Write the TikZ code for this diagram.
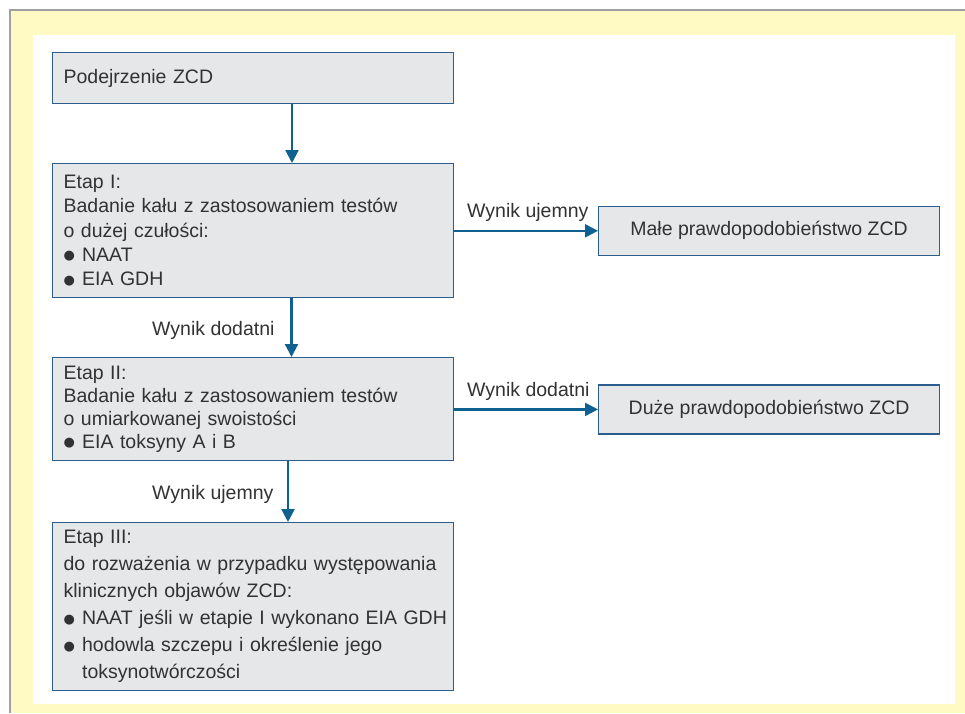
\documentclass[tikz,border=0pt]{standalone}
\usepackage{fontspec}
\setmainfont{Liberation Sans}
\newfontfamily\symf{DejaVu Sans}
\usetikzlibrary{arrows.meta}
\definecolor{yel}{RGB}{255,249,196}
\definecolor{boxfill}{RGB}{230,231,232}
\definecolor{boxdraw}{RGB}{43,94,140}
\definecolor{arrc}{RGB}{15,97,146}
\definecolor{txt}{RGB}{50,50,50}
\definecolor{frame}{RGB}{160,160,160}
\newcommand\bul{\makebox[18.5pt][l]{\raisebox{1.6pt}{\symf\fontsize{13}{13}\selectfont ●}}}
\newcommand\bulind{\hspace*{18.5pt}}
\tikzset{
  box/.style={draw=boxdraw, line width=1.2pt, fill=boxfill, text=txt,
    anchor=north west, inner xsep=11pt, inner ysep=0pt, align=left},
  rbox/.style={draw=boxdraw, line width=1.2pt, fill=boxfill, text=txt,
    anchor=north west, inner sep=0pt, align=center,
    minimum width=341pt, minimum height=49pt,
    font=\fontsize{19.5}{24}\selectfont},
  arr/.style={draw=arrc, line width=2.2pt, -{Triangle[length=13pt,width=13pt]}},
  lbl/.style={text=txt, inner sep=0pt, font=\fontsize{19.5}{24}\selectfont}
}
\begin{document}
\begin{tikzpicture}[x=1pt,y=-1pt]
\useasboundingbox (0,0) rectangle (965,713);
\fill[yel] (11,11) rectangle (965,713);
\fill[white] (33,35) rectangle (955,704);
\draw[frame, line width=1.3pt] (10,713) -- (10,10) -- (965,10);

\node[box, minimum width=401pt, minimum height=51pt, text width=379pt,
  font=\fontsize{19.5}{24}\selectfont] (n1) at (52,52) {Podejrzenie ZCD};

\node[box, minimum width=401pt, minimum height=134pt, text width=379pt,
  font=\fontsize{19.5}{24.3}\selectfont] (e1) at (52,163)
  {Etap I:\\Badanie kału z zastosowaniem testów\\o dużej czułości:\\\bul NAAT\\\bul EIA GDH};

\node[box, minimum width=401pt, minimum height=103pt, text width=379pt,
  font=\fontsize{19.5}{23}\selectfont] (e2) at (52,357)
  {Etap II:\\Badanie kału z zastosowaniem testów\\o umiarkowanej swoistości\\\bul EIA toksyny A i B};

\node[box, minimum width=401pt, minimum height=168pt, text width=379pt,
  font=\fontsize{19.5}{27}\selectfont] (e3) at (52,522)
  {Etap III:\\\mbox{do rozważenia w przypadku występowania}\\klinicznych objawów ZCD:\\\mbox{\bul NAAT jeśli w etapie I wykonano EIA GDH}\\\bul hodowla szczepu i określenie jego\\\bulind toksynotwórczości};

\node[rbox] (m1) at (598,205.7) {Małe prawdopodobieństwo ZCD};
\node[rbox] (m2) at (598,384.3) {Duże prawdopodobieństwo ZCD};

\coordinate (x1) at (292,0);
\coordinate (x2) at (291.5,0);
\coordinate (x3) at (288,0);

\draw[arr] (n1.south -| x1) -- (e1.north -| x1);
\draw[arr] (e1.south -| x2) -- (e2.north -| x2);
\draw[arr] (e2.south -| x3) -- (e3.north -| x3);
\draw[arr] (m1.west -| e1.east) -- (m1.west);
\draw[arr] (m2.west -| e2.east) -- (m2.west);

\node[lbl, anchor=base west] (l1) at (467,217.5) {Wynik ujemny};
\node[lbl, anchor=base west] (l2) at (467,396.5) {Wynik dodatni};
\node[lbl, anchor=base west] (l3) at (152,335) {Wynik dodatni};
\node[lbl, anchor=base west] (l4) at (152,499) {Wynik ujemny};
\end{tikzpicture}
\end{document}
